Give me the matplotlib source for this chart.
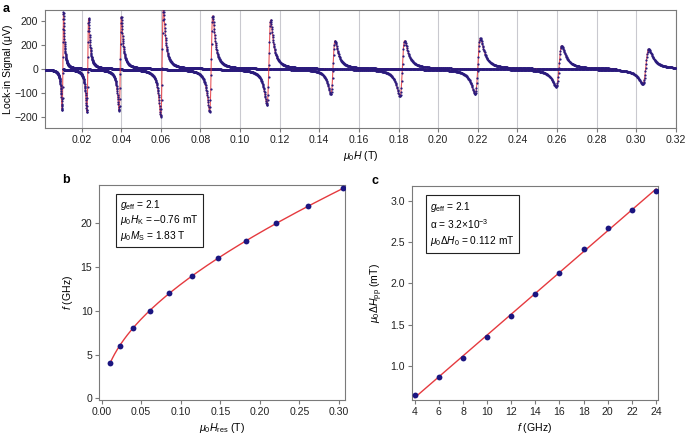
import numpy as np
import matplotlib
matplotlib.use('Agg')
import matplotlib.pyplot as plt

plt.rcParams['font.family'] = ['Liberation Sans', 'DejaVu Sans']
plt.rcParams['mathtext.fontset'] = 'custom'
plt.rcParams['mathtext.rm'] = 'Liberation Sans'
plt.rcParams['mathtext.it'] = 'Liberation Sans:italic'
plt.rcParams['mathtext.bf'] = 'Liberation Sans:bold'
plt.rcParams['axes.unicode_minus'] = True

# ---------------- data ----------------
freq_ghz = [4, 6, 8, 10, 12, 14, 16, 18, 20, 22, 24]
h_res_t = [0.0105, 0.0231, 0.0395, 0.0606, 0.0854, 0.1145, 0.1469, 0.1819, 0.2200, 0.2610, 0.3048]
linewidth_mt = [0.65, 0.87, 1.10, 1.35, 1.61, 1.87, 2.13, 2.41, 2.67, 2.89, 3.12]

# panel a: read amplitudes of each lock-in trace
peak_uv = [236, 211, 218, 250, 222, 204, 118, 118, 128, 97, 83]
trough_uv = [-171, -180, -175, -199, -180, -150, -105, -115, -105, -74, -62]
trace_start_t = [0.0015, 0.0107, 0.0233, 0.0402, 0.0604, 0.0882, 0.1150, 0.1427, 0.1799, 0.2195, 0.2498]
trace_end_t = [0.0233, 0.0402, 0.0604, 0.0882, 0.1150, 0.1427, 0.1799, 0.2195, 0.2498, 0.2900, 0.3200]

a_xticks = [0.02, 0.04, 0.06, 0.08, 0.10, 0.12, 0.14, 0.16, 0.18, 0.20, 0.22, 0.24, 0.26, 0.28, 0.30, 0.32]
a_yticks = [-200, -100, 0, 100, 200]
a_yticklabels = ['\u2212200', '\u2212100', '0', '200', '200']

# fit parameters shown in the text boxes
hk_t = -0.76e-3
ms_t = 1.83

# ---------------- styling ----------------
DOT = '#2a1a7c'
RED = '#e53a3f'
SPINE = '#7a7a7a'
FS = 7.6
FS_BOX = 7.3

fig = plt.figure(figsize=(6.85, 4.37), dpi=100)


def style(ax):
    for s in ax.spines.values():
        s.set_color(SPINE)
        s.set_linewidth(0.8)
    ax.tick_params(direction='out', length=3, width=0.8, color=SPINE,
                   labelsize=FS, labelcolor='#222222', pad=2)


# ---------------- panel a ----------------
axa = fig.add_axes([45 / 685, 1 - 128 / 437, 631 / 685, 118 / 437])
style(axa)
axa.set_xlim(0.0015, 0.3201)
axa.set_ylim(-246, 246)
for xv in a_xticks:
    axa.axvline(xv, color='#c9c9cf', lw=0.8, zorder=0)

P_EXP = 1.4
xg = np.linspace(-30, 30, 60001)


def shape(x, c):
    return (x + c) / (1 + x ** 2) ** P_EXP


for i in range(len(h_res_t)):
    ratio = peak_uv[i] / abs(trough_uv[i])
    lo, hi = 0.0, 2.0
    for _ in range(60):
        c = 0.5 * (lo + hi)
        y = shape(xg, c)
        r = y.max() / abs(y.min())
        if r < ratio:
            lo = c
        else:
            hi = c
    y = shape(xg, c)
    xmax = xg[np.argmax(y)]
    xmin = xg[np.argmin(y)]
    gam = linewidth_mt[i] * 1e-3 / (xmax - xmin)
    amp = peak_uv[i] / y.max()
    mid = 0.5 * (xmax + xmin)
    H = np.linspace(trace_start_t[i], trace_end_t[i], 380)
    sig = amp * shape((H - h_res_t[i]) / gam + mid, c)
    Hf = np.linspace(trace_start_t[i], trace_end_t[i], 3000)
    sigf = amp * shape((Hf - h_res_t[i]) / gam + mid, c)
    axa.plot(Hf, sigf, color=RED, lw=0.8, alpha=0.85, zorder=2 + 2 * i)
    axa.plot(H, sig, 'o', color=DOT, ms=1.6, mew=0, zorder=3 + 2 * i)

axa.set_xticks(a_xticks)
axa.set_xticklabels(['%.2f' % v for v in a_xticks])
axa.set_yticks(a_yticks)
axa.set_yticklabels(a_yticklabels)
axa.set_xlabel(r'$\mu_0H$ (T)', fontsize=FS, labelpad=3)
axa.set_ylabel('Lock-in Signal (\u03bcV)', fontsize=FS, labelpad=1)

# ---------------- panel b ----------------
axb = fig.add_axes([99.3 / 685, 1 - 400 / 437, 245.7 / 685, 215 / 437])
style(axb)
H = np.array(h_res_t)
f = np.array(freq_ghz, dtype=float)
s = np.sqrt((H + hk_t) * (H + hk_t + ms_t))
gam_fit = np.sum(f * s) / np.sum(s * s)
Hc = np.linspace(H[0], H[-1], 400)
fc = gam_fit * np.sqrt((Hc + hk_t) * (Hc + hk_t + ms_t))
axb.plot(Hc, fc, color=RED, lw=1.0, zorder=2)
axb.plot(H, f, 'o', color='#1b1580', ms=4.2, mew=0, zorder=3)
axb.set_xlim(-0.003, 0.3075)
axb.set_ylim(-0.2, 24.4)
axb.set_xticks([0.00, 0.05, 0.10, 0.15, 0.20, 0.25, 0.30])
axb.set_xticklabels(['0.00', '0.05', '0.10', '0.15', '0.20', '0.25', '0.30'])
axb.set_yticks([0, 5, 10, 15, 20])
axb.set_xlabel(r'$\mu_0H_{\rm res}$ (T)', fontsize=FS, labelpad=3)
axb.set_ylabel(r'$f$ (GHz)', fontsize=FS, labelpad=4)
axb.text(0.085, 0.94,
         '$g_{\\rm eff}$ = 2.1\n$\\mu_0H_{\\rm K}$ = \u20130.76 mT\n$\\mu_0M_{\\rm S}$ = 1.83 T',
         transform=axb.transAxes, fontsize=FS_BOX, va='top', ha='left', linespacing=1.15,
         bbox=dict(boxstyle='square,pad=0.4', fc='white', ec='#222222', lw=0.8))

# ---------------- panel c ----------------
axc = fig.add_axes([411.7 / 685, 1 - 400 / 437, 246.6 / 685, 214 / 437])
style(axc)
lw = np.array(linewidth_mt)
coef = np.polyfit(f, lw, 1)
fl = np.linspace(f[0], f[-1], 50)
axc.plot(fl, np.polyval(coef, fl), color=RED, lw=1.0, zorder=2)
axc.plot(f, lw, 'o', color='#1b1580', ms=4.2, mew=0, zorder=3)
axc.set_xlim(3.75, 24.19)
axc.set_ylim(0.588, 3.178)
axc.set_xticks(freq_ghz)
axc.set_yticks([1.0, 1.5, 2.0, 2.5, 3.0])
axc.set_yticklabels(['1.0', '1.5', '2.0', '2.5', '3.0'])
axc.set_xlabel(r'$f$ (GHz)', fontsize=FS, labelpad=3)
axc.set_ylabel(r'$\mu_0\Delta H_{\rm pp}$ (mT)', fontsize=FS, labelpad=4)
axc.text(0.075, 0.935,
         '$g_{\\rm eff}$ = 2.1\n\u03b1 = 3.2\u00d710$^{-3}$\n$\\mu_0\\Delta H_0$ = 0.112 mT',
         transform=axc.transAxes, fontsize=FS_BOX, va='top', ha='left', linespacing=1.3,
         bbox=dict(boxstyle='square,pad=0.45', fc='white', ec='#222222', lw=0.8))

# panel letters
fig.text(3 / 685, 1 - 9 / 437, 'a', fontsize=9, fontweight='bold', va='center', ha='left')
fig.text(62 / 685, 1 - 180 / 437, 'b', fontsize=9, fontweight='bold', va='center', ha='left')
fig.text(372 / 685, 1 - 181 / 437, 'c', fontsize=9, fontweight='bold', va='center', ha='left')

fig.savefig('out.png', dpi=100)
